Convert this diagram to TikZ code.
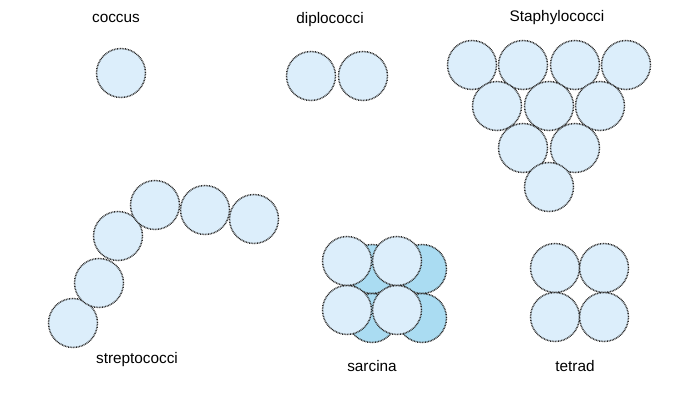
\documentclass[tikz,border=0pt]{standalone}
\usepackage{fontspec}
\setmainfont{Liberation Sans}
\definecolor{cellA}{HTML}{DCEEFB}
\definecolor{cellB}{HTML}{AADCF2}
\begin{document}
\begin{tikzpicture}[x=0.75pt,y=-0.75pt]
\tikzset{cell/.style={circle,draw=black!85,fill=cellA,line width=1.1pt,dash pattern=on 0.6pt off 0.6pt,minimum size=49*0.75pt,inner sep=0pt},
  cellback/.style={cell,fill=cellB},
  lbl/.style={font=\fontsize{11.5pt}{13pt}\selectfont}}
\useasboundingbox (0,0) rectangle (680,418);

% labels
\node[lbl] (tcoccus) at (116,18) {coccus};
\node[lbl] (tdiplo) at (330,20) {diplococci};
\node[lbl] (tstaph) at (557,18) {Staphylococci};
\node[lbl] (tstrep) at (137,360) {streptococci};
\node[lbl] (tsarc) at (372,366) {sarcina};
\node[lbl] (ttet) at (575,366) {tetrad};

% coccus, diplococci
\node[cell] (c1) at (121,73) {};
\node[cell] (d1) at (311,76) {};
\node[cell] (d2) at (363,76) {};

% staphylococci
\foreach \x in {472,523,575,626} \node[cell] at (\x,65) {};
\foreach \x in {497,549,600} \node[cell] at (\x,106) {};
\foreach \x in {523,575} \node[cell] at (\x,148) {};
\node[cell] (s10) at (549,187) {};

% streptococci
\foreach \x/\y in {73/323,99/283,118/236,155/205,205/210,254/219} \node[cell] at (\x,\y) {};

% sarcina
\foreach \x/\y in {372/269,422/269,372/318,422/318} \node[cellback] at (\x,\y) {};
\foreach \x/\y in {347/261,397/261,347/310,397/310} \node[cell] at (\x,\y) {};

% tetrad
\foreach \x/\y in {555/268,604/268,555/317,604/317} \node[cell] at (\x,\y) {};
\end{tikzpicture}
\end{document}
